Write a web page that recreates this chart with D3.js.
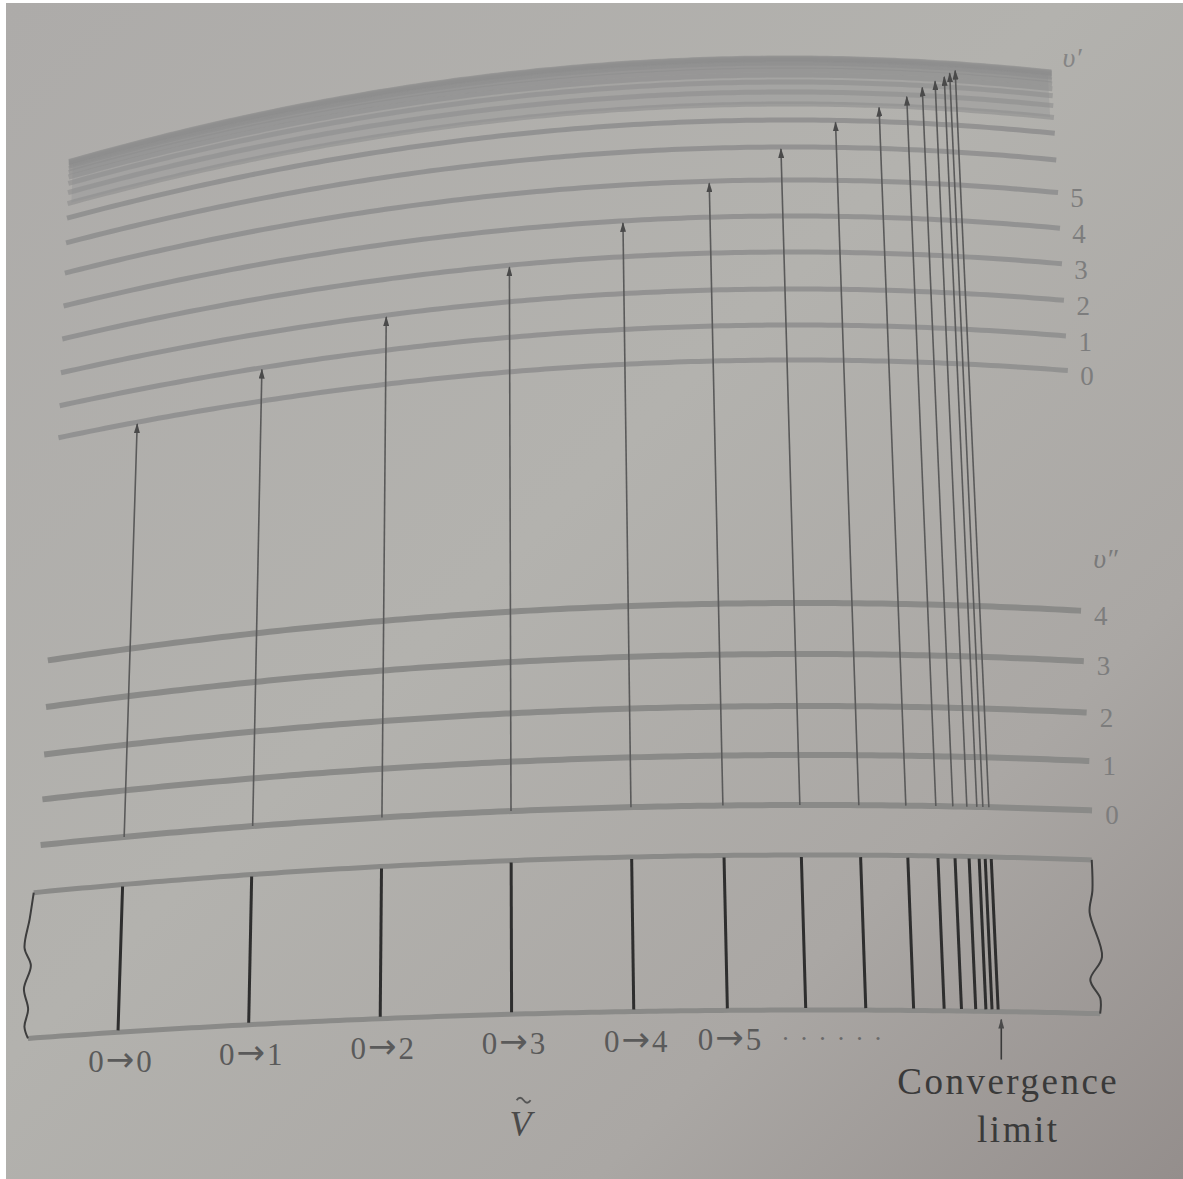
<!DOCTYPE html>
<html>
<head>
<meta charset="utf-8">
<script src="https://cdn.jsdelivr.net/npm/d3@7"></script>
<style>
body { margin: 0; background: #fff; }
svg { display: block; }
text { font-family: "Liberation Serif", "DejaVu Serif", serif; }
</style>
</head>
<body>
<svg id="chart" width="1183" height="1179"></svg>
<script>
// values
// band origins of the v''=0 progression, relative wavenumber (0->0 = 0)
var bandOrigins = [0, 128, 257, 386, 506, 598, 675, 734, 781, 811, 828, 842, 852, 858, 864];
var bandLabels = ['0\u21920', '0\u21921', '0\u21922', '0\u21923', '0\u21924', '0\u21925'];
var convergenceLimit = 867;
// term values of the upper state, relative to v'=0
var upperLevels = [0, 35, 71, 108, 144, 180, 213, 240, 256, 268, 278, 285, 290, 294, 297, 299, 300.5, 301.5, 302];
var upperTicks = ['0', '1', '2', '3', '4', '5'];
// term values of the lower state, relative to v''=0
var lowerLevels = [0, 50, 99, 151, 202];
var lowerTicks = ['0', '1', '2', '3', '4'];

var W = 1183, H = 1179;
var svg = d3.select('#chart');

// flat layout scales
var x = d3.scaleLinear().domain([-88, 964]).range([37, 1089]);
var yUp = d3.scaleLinear().domain([0, 302]).range([360, 58]);
var yLow = d3.scaleLinear().domain([0, 202]).range([805, 603]);
var levelX0 = 44, levelX1 = 1092, tickX = 1112;
var boxTop = 855, boxBottom = 1010;

// the page is photographed bent: map flat coordinates onto the picture
function warp(X, E) {
    var b = E < 805 ? 6.8e-5 + (805 - E) * 1.45e-7 : 6.8e-5 - (E - 805) * 1.0e-7;
    var yy = E + b * (X - 810) * (X - 810);
    var k = 1 + 8.96e-5 * (yy - 810);
    return [478 + (X - 478) * k, yy];
}

function curvePts(E, X0, X1) {
    var pts = [];
    for (var X = X0; X < X1; X += 8) pts.push(warp(X, E));
    pts.push(warp(X1, E));
    return pts;
}

var line = d3.line().curve(d3.curveLinear);

// background
var defs = svg.append('defs');
var grad = defs.append('linearGradient').attr('id', 'paper')
    .attr('x1', '0').attr('y1', '0').attr('x2', '1').attr('y2', '1');
grad.append('stop').attr('offset', '0').attr('stop-color', '#adaba9');
grad.append('stop').attr('offset', '0.45').attr('stop-color', '#b3b2ae');
grad.append('stop').attr('offset', '0.75').attr('stop-color', '#aaa7a4');
grad.append('stop').attr('offset', '1').attr('stop-color', '#948e8c');
svg.append('rect').attr('width', W).attr('height', H).attr('fill', '#fff');
svg.append('rect').attr('x', 6).attr('y', 3).attr('width', W - 6).attr('height', H - 3)
    .attr('fill', 'url(#paper)');

defs.append('marker').attr('id', 'head')
    .attr('viewBox', '0 0 10 6').attr('refX', 9).attr('refY', 3)
    .attr('markerWidth', 10).attr('markerHeight', 6)
    .attr('markerUnits', 'userSpaceOnUse').attr('orient', 'auto')
    .append('path').attr('d', 'M0,0 L10,3 L0,6 Z').attr('fill', '#4a4a4a');

// upper state levels; the crowded ones near the limit merge into a band
var bandTop = curvePts(yUp(upperLevels[upperLevels.length - 1]), levelX0 + 4, levelX1 - 4);
var bandLow = curvePts(yUp(upperLevels[8]), levelX0 + 4, levelX1 - 4).reverse();
svg.append('path').attr('d', line(bandTop.concat(bandLow)) + 'Z')
    .attr('fill', '#9a9a9a').attr('fill-opacity', 0.55);

var gUp = svg.append('g').attr('class', 'upper');
gUp.selectAll('path').data(upperLevels).enter().append('path')
    .attr('d', function (d) { return line(curvePts(yUp(d), levelX0, levelX1)); })
    .attr('fill', 'none')
    .attr('stroke', '#8d8d8d')
    .attr('stroke-opacity', function (d, i) { return i < 8 ? 0.85 : 0.6; })
    .attr('stroke-width', 5);

// lower state levels
var gLow = svg.append('g').attr('class', 'lower');
gLow.selectAll('path').data(lowerLevels).enter().append('path')
    .attr('d', function (d) { return line(curvePts(yLow(d), levelX0 - 2, levelX1)); })
    .attr('fill', 'none')
    .attr('stroke', '#8a8a88')
    .attr('stroke-width', 6);

// level numbers
function tick(E, t, cls) {
    var p = warp(tickX, E);
    svg.append('text').attr('class', cls)
        .attr('x', p[0]).attr('y', p[1] + 13)
        .attr('text-anchor', 'middle')
        .attr('font-size', 27).attr('fill', '#7d7d7d')
        .text(t);
}
upperTicks.forEach(function (t, i) { tick(yUp(upperLevels[i]), t, 'tick-up'); });
lowerTicks.forEach(function (t, i) { tick(yLow(lowerLevels[i]), t, 'tick-low'); });

var pv1 = warp(tickX + 3, 42);
svg.append('text').attr('x', pv1[0]).attr('y', pv1[1] + 8).attr('text-anchor', 'middle')
    .attr('font-size', 28).attr('font-style', 'italic').attr('fill', '#858585').text('\u03c5\u2032');
var pv2 = warp(tickX + 8, 548);
svg.append('text').attr('x', pv2[0]).attr('y', pv2[1] + 10).attr('text-anchor', 'middle')
    .attr('font-size', 28).attr('font-style', 'italic').attr('fill', '#7a7a7a').text('\u03c5\u2033');

// transitions v''=0 -> v'
var gArr = svg.append('g').attr('class', 'arrows');
gArr.selectAll('line').data(bandOrigins).enter().append('line')
    .each(function (d, i) {
        var b = warp(x(d), yLow(0));
        var t = warp(x(d), yUp(upperLevels[i]) + 2);
        d3.select(this).attr('x1', b[0]).attr('y1', b[1])
            .attr('x2', t[0]).attr('y2', t[1]);
    })
    .attr('stroke', '#5a5a5a')
    .attr('stroke-width', 1.6)
    .attr('marker-end', 'url(#head)');

// spectrum strip
var gBox = svg.append('g').attr('class', 'spectrum');
gBox.append('path').attr('d', line(curvePts(boxTop, x(-88), x(964))))
    .attr('fill', 'none').attr('stroke', '#8a8a88').attr('stroke-width', 5);
gBox.append('path').attr('d', line(curvePts(boxBottom, x(-88), x(964))))
    .attr('fill', 'none').attr('stroke', '#8a8a88').attr('stroke-width', 5);

function wavy(X, offs) {
    var a = warp(X, boxTop), b = warp(X, boxBottom);
    return offs.map(function (o) {
        return [a[0] + (b[0] - a[0]) * o[0] + o[1], a[1] + (b[1] - a[1]) * o[0]];
    });
}
var waveLeft = [[0, 0], [0.18, -3], [0.38, -7], [0.5, 0], [0.66, -6], [0.8, -1], [0.92, -4], [1, 0]];
var waveRight = [[0, 0], [0.2, -1], [0.34, -5], [0.63, 5], [0.78, -8], [0.9, 1], [1, 0]];
var wline = d3.line().curve(d3.curveCatmullRom);
gBox.append('path').attr('d', wline(wavy(x(-88), waveLeft)))
    .attr('fill', 'none').attr('stroke', '#3d3d3d').attr('stroke-width', 2);
gBox.append('path').attr('d', wline(wavy(x(964), waveRight)))
    .attr('fill', 'none').attr('stroke', '#3d3d3d').attr('stroke-width', 2);

gBox.selectAll('line.band').data(bandOrigins).enter().append('line')
    .attr('class', 'band')
    .each(function (d) {
        var a = warp(x(d), boxTop + 2), b = warp(x(d), boxBottom - 2);
        d3.select(this).attr('x1', a[0]).attr('y1', a[1]).attr('x2', b[0]).attr('y2', b[1]);
    })
    .attr('stroke', '#2e2e2e').attr('stroke-width', 3);

// band labels under the strip: "0", arrow, upper v
bandLabels.forEach(function (t, i) {
    var p = warp(x(bandOrigins[i]), boxBottom);
    var parts = t.split('\u2192');
    var lbl = svg.append('text').attr('x', p[0] + 2).attr('y', p[1] + 40)
        .attr('text-anchor', 'middle').attr('font-size', 31)
        .attr('fill', '#5a5a5a');
    lbl.append('tspan').text(parts[0]);
    lbl.append('tspan').attr('font-family', '"DejaVu Sans", sans-serif')
        .attr('font-size', 34).attr('dx', 2).attr('dy', -1).text('\u2192');
    lbl.append('tspan').attr('dx', 2).attr('dy', 1).text(parts[1]);
});
var d6 = warp(x(bandOrigins[6]), boxBottom), d7 = warp(x(bandOrigins[7]), boxBottom);
svg.append('text').attr('x', (d6[0] + d7[0]) / 2 + 2).attr('y', d6[1] + 30)
    .attr('text-anchor', 'middle').attr('font-size', 26).attr('letter-spacing', 12)
    .attr('fill', '#6a6a6a').text('......');

// convergence limit
var cl = warp(x(convergenceLimit), boxBottom);
svg.append('line').attr('x1', cl[0]).attr('y1', cl[1] + 48).attr('x2', cl[0]).attr('y2', cl[1] + 8)
    .attr('stroke', '#3a3a3a').attr('stroke-width', 1.6).attr('marker-end', 'url(#head)');
svg.append('text').attr('x', cl[0] + 7).attr('y', cl[1] + 82)
    .attr('text-anchor', 'middle').attr('font-size', 37).attr('letter-spacing', 2.5)
    .attr('fill', '#3a3a3a').text('Convergence');
svg.append('text').attr('x', cl[0] + 17).attr('y', cl[1] + 130)
    .attr('text-anchor', 'middle').attr('font-size', 37).attr('letter-spacing', 2.5)
    .attr('fill', '#3a3a3a').text('limit');

// axis symbol: wavenumber, V with a tilde drawn above it
var nu = warp(x(bandOrigins[3]), boxBottom);
svg.append('text').attr('x', nu[0] + 9).attr('y', nu[1] + 122)
    .attr('text-anchor', 'middle').attr('font-size', 36).attr('font-style', 'italic')
    .attr('fill', '#4a4a4a').text('V');
var tx = nu[0] + 12, ty = nu[1] + 84;
svg.append('path')
    .attr('d', 'M' + (tx - 7) + ',' + (ty + 2) + ' q3.5,-5 7,0 t7,0')
    .attr('fill', 'none').attr('stroke', '#555').attr('stroke-width', 1.8);
</script>
</body>
</html>
